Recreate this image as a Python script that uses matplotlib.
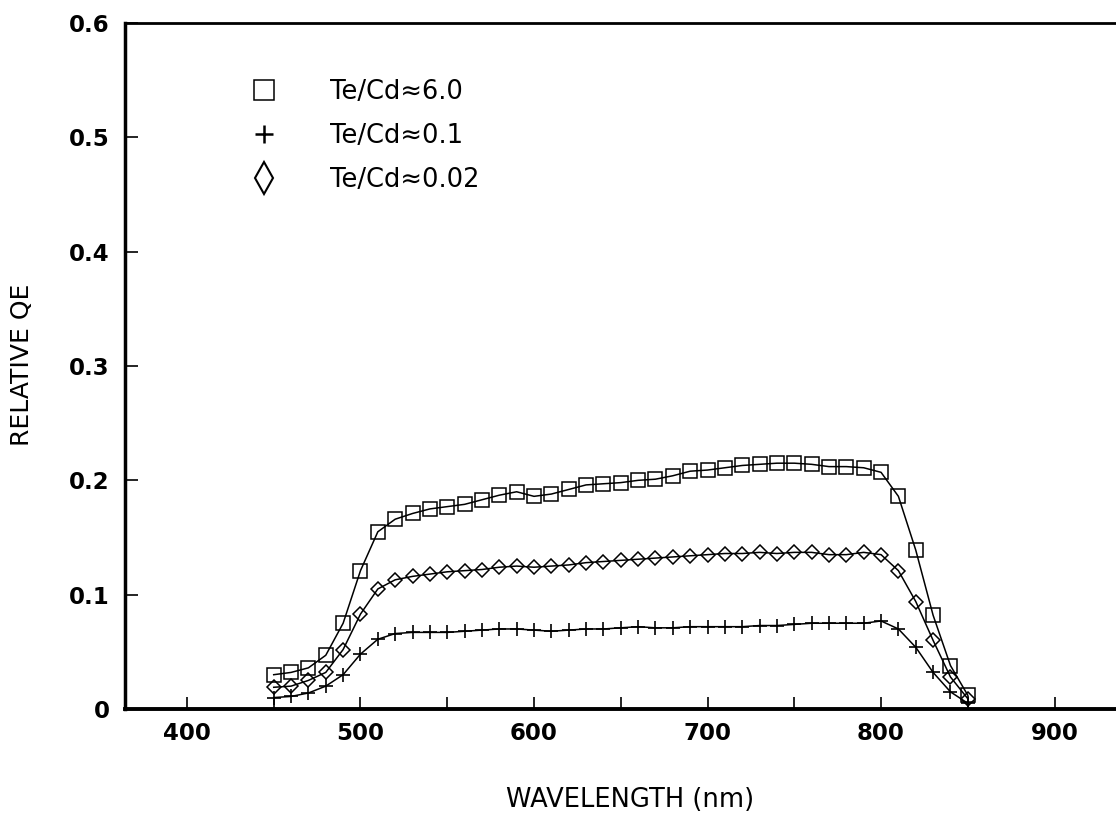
import matplotlib
matplotlib.use("Agg")
import matplotlib.pyplot as plt
from matplotlib.ticker import MultipleLocator, FuncFormatter

plt.rcParams['font.family'] = ['DejaVu Sans']

wavelength = list(range(450, 851, 10))

qe_te6 = [0.030, 0.032, 0.036, 0.047, 0.075, 0.121, 0.155, 0.166, 0.171, 0.175,
          0.177, 0.179, 0.183, 0.187, 0.190, 0.186, 0.188, 0.192, 0.196, 0.197,
          0.198, 0.200, 0.201, 0.204, 0.208, 0.209, 0.211, 0.213, 0.214, 0.215,
          0.215, 0.214, 0.212, 0.212, 0.211, 0.207, 0.186, 0.139, 0.082, 0.038,
          0.012]

qe_te01 = [0.010, 0.011, 0.014, 0.020, 0.030, 0.048, 0.061, 0.066, 0.067, 0.067,
           0.067, 0.068, 0.069, 0.070, 0.070, 0.069, 0.068, 0.069, 0.070, 0.070,
           0.071, 0.072, 0.071, 0.071, 0.072, 0.072, 0.072, 0.072, 0.073, 0.073,
           0.074, 0.075, 0.075, 0.075, 0.075, 0.077, 0.070, 0.054, 0.032, 0.015,
           0.005]

qe_te002 = [0.019, 0.020, 0.025, 0.032, 0.052, 0.083, 0.105, 0.113, 0.116, 0.118,
            0.120, 0.121, 0.122, 0.124, 0.125, 0.124, 0.125, 0.126, 0.128, 0.129,
            0.130, 0.131, 0.132, 0.133, 0.134, 0.135, 0.136, 0.136, 0.137, 0.136,
            0.137, 0.137, 0.135, 0.135, 0.137, 0.135, 0.121, 0.094, 0.060, 0.028,
            0.009]

labels = ['Te/Cd\u22486.0', 'Te/Cd\u22480.1', 'Te/Cd\u22480.02']

fig = plt.figure(figsize=(11.16, 8.27), dpi=100)
ax = fig.add_axes([125 / 1116, 1 - 709 / 827, 1 - 125 / 1116, (709 - 23) / 827])

ax.plot(wavelength, qe_te6, color='black', lw=1.1, marker='s', ms=9.5,
        mfc='none', mec='black', mew=1.1)
ax.plot(wavelength, qe_te002, color='black', lw=1.1, marker='D', ms=7.5,
        mfc='none', mec='black', mew=1.1)
ax.plot(wavelength, qe_te01, color='black', lw=1.1, marker='+', ms=10,
        mec='black', mew=1.2)

ax.set_xlim(364.3, 935.4)
ax.set_ylim(0, 0.6)

ax.xaxis.set_major_locator(MultipleLocator(100))
ax.xaxis.set_minor_locator(MultipleLocator(50))
ax.yaxis.set_major_locator(MultipleLocator(0.1))
ax.yaxis.set_major_formatter(FuncFormatter(lambda v, p: '0' if abs(v) < 1e-9 else '%.1f' % v))

ax.tick_params(axis='both', which='both', direction='in', length=9, width=1.2,
               labelsize=16.5, top=False, right=False)
ax.tick_params(axis='y', pad=11)
ax.tick_params(axis='x', pad=9)
for lab in ax.get_xticklabels() + ax.get_yticklabels():
    lab.set_fontweight('bold')

ax.spines['right'].set_visible(False)
ax.spines['left'].set_linewidth(2.5)
ax.spines['bottom'].set_linewidth(2.8)
ax.spines['top'].set_linewidth(2.0)

fig.text(22 / 1116, 1 - 365 / 827, 'RELATIVE QE', rotation=90, ha='center',
         va='center', fontsize=18)
fig.text(630 / 1116, 1 - 800 / 827, 'WAVELENGTH (nm)', ha='center',
         va='center', fontsize=18.5)

handles = [
    plt.Line2D([], [], ls='none', marker='s', ms=14.5, mfc='none', mec='black', mew=1.1),
    plt.Line2D([], [], ls='none', marker='+', ms=12.5, mec='black', mew=1.8),
    plt.Line2D([], [], ls='none', marker='d', ms=16, mfc='none', mec='black', mew=1.5),
]
fig.legend(handles, labels, loc='upper left',
           bbox_to_anchor=(250 / 1116, 1 - 79 / 827),
           frameon=False, fontsize=18.5, handlelength=1.1, handletextpad=2.0,
           labelspacing=0.71, borderpad=0, borderaxespad=0)

fig.savefig('out.png', dpi=100)
